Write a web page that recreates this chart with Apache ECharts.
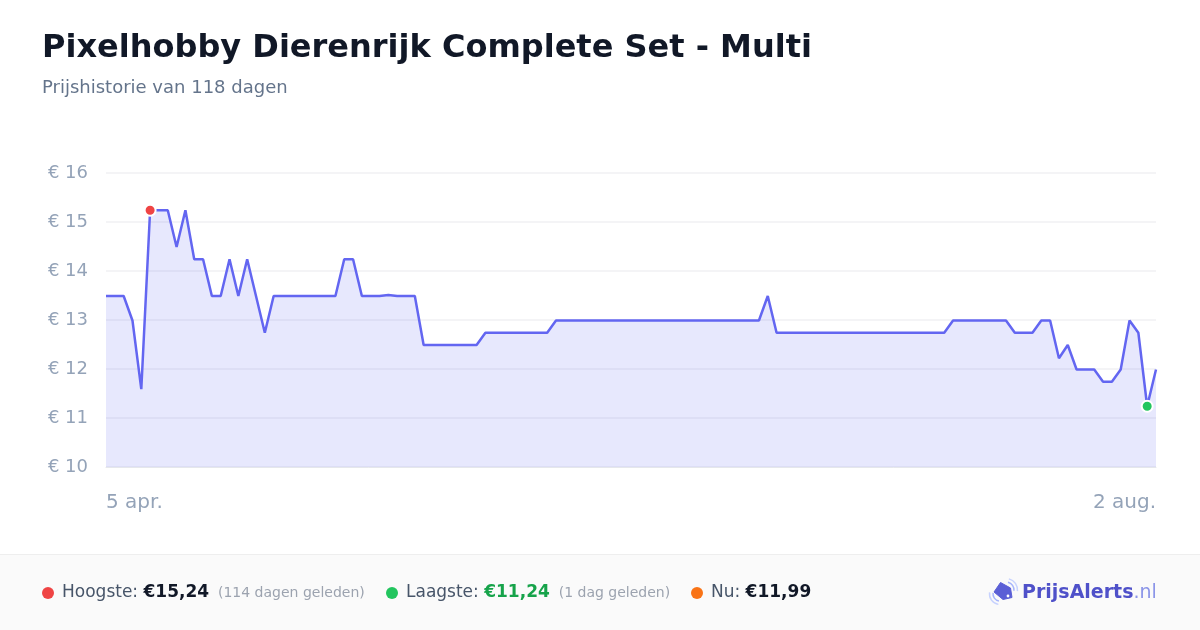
<!DOCTYPE html>
<html>
<head>
<meta charset="utf-8">
<script src="https://cdn.jsdelivr.net/npm/echarts@6/dist/echarts.min.js"></script>
<style>
html,body{margin:0;padding:0;background:#fff;}
#c{width:1200px;height:630px;}
</style>
</head>
<body>
<div id="c"></div>
<script>
var titleText = 'Pixelhobby Dierenrijk Complete Set - Multi';
var subtitleText = 'Prijshistorie van 118 dagen';

// Daily prices, 5 apr. .. 2 aug. (120 days)
var prices = [
  13.49, 13.49, 13.49, 12.99, 11.59, 15.24, 15.24, 15.24, 14.49, 15.24,
  14.24, 14.24, 13.49, 13.49, 14.24, 13.49, 14.24, 13.49, 12.74, 13.49,
  13.49, 13.49, 13.49, 13.49, 13.49, 13.49, 13.49, 14.24, 14.24, 13.49,
  13.49, 13.49, 13.51, 13.49, 13.49, 13.49, 12.49, 12.49, 12.49, 12.49,
  12.49, 12.49, 12.49, 12.74, 12.74, 12.74, 12.74, 12.74, 12.74, 12.74,
  12.74, 12.99, 12.99, 12.99, 12.99, 12.99, 12.99, 12.99, 12.99, 12.99,
  12.99, 12.99, 12.99, 12.99, 12.99, 12.99, 12.99, 12.99, 12.99, 12.99,
  12.99, 12.99, 12.99, 12.99, 12.99, 13.49, 12.74, 12.74, 12.74, 12.74,
  12.74, 12.74, 12.74, 12.74, 12.74, 12.74, 12.74, 12.74, 12.74, 12.74,
  12.74, 12.74, 12.74, 12.74, 12.74, 12.74, 12.99, 12.99, 12.99, 12.99,
  12.99, 12.99, 12.99, 12.74, 12.74, 12.74, 12.99, 12.99, 12.22, 12.49,
  11.99, 11.99, 11.99, 11.74, 11.74, 11.99, 12.99, 12.74, 11.24, 11.99
];

var monthNames = ['apr.', 'mei', 'jun.', 'jul.', 'aug.'];
var monthStart = [5, 1, 1, 1, 1];
var monthEnd = [30, 31, 30, 31, 2];

var dates = [];
for (var m = 0; m < monthNames.length; m++) {
  for (var d = monthStart[m]; d <= monthEnd[m]; d++) dates.push(d + ' ' + monthNames[m]);
}
var shownTicks = ['5 apr.', '2 aug.'];

var yMin = 10, yMax = 16, yStep = 1;

var stats = {
  high: '€15,24', highAgo: '(114 dagen geleden)',
  low: '€11,24', lowAgo: '(1 dag geleden)',
  now: '€11,99'
};

var FONT = 'DejaVu Sans';
var chart = echarts.init(document.getElementById('c'), null, {renderer: 'canvas'});

chart.setOption({
  backgroundColor: '#ffffff',
  animation: false,
  textStyle: {fontFamily: FONT},
  grid: {left: 106, right: 44, top: 173, bottom: 163, containLabel: false},
  xAxis: {
    type: 'category',
    data: dates,
    boundaryGap: false,
    axisTick: {show: false},
    axisLine: {show: true, lineStyle: {color: '#e5e7eb', width: 1}},
    splitLine: {show: false},
    axisLabel: {
      color: '#94a3b8',
      fontSize: 20,
      fontFamily: FONT,
      margin: 26,
      interval: function (i, v) { return shownTicks.indexOf(v) >= 0; },
      alignMinLabel: 'left',
      alignMaxLabel: 'right'
    }
  },
  yAxis: {
    type: 'value',
    min: yMin, max: yMax, interval: yStep,
    axisLine: {show: false},
    axisTick: {show: false},
    splitLine: {lineStyle: {color: '#f1f1f3', width: 1.5}},
    axisLabel: {
      color: '#94a3b8',
      fontSize: 18,
      fontFamily: FONT,
      margin: 18,
      padding: [3, 0, 0, 0],
      formatter: function (v) { return '€ ' + v; }
    }
  },
  series: [{
    type: 'line',
    data: prices,
    symbol: 'none',
    lineStyle: {color: '#6366f1', width: 2.5},
    areaStyle: {color: 'rgba(99,102,241,0.22)'},
    markPoint: {
      symbol: 'circle',
      symbolSize: 11,
      label: {show: false},
      data: [
        {type: 'max', itemStyle: {color: '#ef4444', borderColor: '#ffffff', borderWidth: 2}},
        {type: 'min', itemStyle: {color: '#22c55e', borderColor: '#ffffff', borderWidth: 2}}
      ]
    }
  }],
  graphic: [
    {type: 'text', left: 42, top: 33, style: {text: titleText, font: 'bold 32px "DejaVu Sans"', fill: '#111827'}},
    {type: 'text', left: 42, top: 79, style: {text: subtitleText, font: '18px "DejaVu Sans"', fill: '#64748b'}},
    {type: 'rect', shape: {x: 0, y: 555, width: 1200, height: 75}, style: {fill: '#fafafa'}},
    {type: 'line', shape: {x1: 0, y1: 554.5, x2: 1200, y2: 554.5}, style: {stroke: '#eeeeee', lineWidth: 1}},
    {type: 'circle', shape: {cx: 48, cy: 593, r: 6}, style: {fill: '#ef4444'}},
    {type: 'text', x: 62, y: 593, style: {
      text: '{a|Hoogste: }{b|' + stats.high + '}{c|  ' + stats.highAgo + '}',
      verticalAlign: 'middle',
      rich: {
        a: {font: '17px "DejaVu Sans"', fill: '#475569'},
        b: {font: 'bold 17px "DejaVu Sans"', fill: '#111827'},
        c: {font: '14px "DejaVu Sans"', fill: '#9ca3af'}
      }
    }},
    {type: 'circle', shape: {cx: 392, cy: 593, r: 6}, style: {fill: '#22c55e'}},
    {type: 'text', x: 406, y: 593, style: {
      text: '{a|Laagste: }{b|' + stats.low + '}{c|  ' + stats.lowAgo + '}',
      verticalAlign: 'middle',
      rich: {
        a: {font: '17px "DejaVu Sans"', fill: '#475569'},
        b: {font: 'bold 17px "DejaVu Sans"', fill: '#16a34a'},
        c: {font: '14px "DejaVu Sans"', fill: '#9ca3af'}
      }
    }},
    {type: 'circle', shape: {cx: 697, cy: 593, r: 6}, style: {fill: '#f97316'}},
    {type: 'text', x: 711, y: 593, style: {
      text: '{a|Nu: }{b|' + stats.now + '}',
      verticalAlign: 'middle',
      rich: {
        a: {font: '17px "DejaVu Sans"', fill: '#475569'},
        b: {font: 'bold 17px "DejaVu Sans"', fill: '#111827'}
      }
    }},
    // logo icon
    {type: 'polygon', shape: {points: [[994, 592], [1000.5, 582.5], [1010.5, 588], [1012, 597.5], [1003, 599.5]], smooth: 0}, style: {fill: '#5b5fd6', stroke: '#5b5fd6', lineWidth: 1, lineJoin: 'round'}},
    {type: 'circle', shape: {cx: 1008, cy: 596, r: 1.4}, style: {fill: '#ffffff'}},
    {type: 'arc', shape: {cx: 1006, cy: 590, r: 8, startAngle: -Math.PI * 0.42, endAngle: 0.1}, style: {stroke: '#a5b4fc', lineWidth: 1.5, fill: null}},
    {type: 'arc', shape: {cx: 1006, cy: 590, r: 11.5, startAngle: -Math.PI * 0.42, endAngle: 0.1}, style: {stroke: '#c7d2fe', lineWidth: 1.5, fill: null}},
    {type: 'arc', shape: {cx: 1000, cy: 594, r: 7, startAngle: Math.PI * 0.55, endAngle: Math.PI * 1.05}, style: {stroke: '#a5b4fc', lineWidth: 1.5, fill: null}},
    {type: 'arc', shape: {cx: 1000, cy: 594, r: 10.5, startAngle: Math.PI * 0.55, endAngle: Math.PI * 1.05}, style: {stroke: '#c7d2fe', lineWidth: 1.5, fill: null}},
    {type: 'text', x: 1022, y: 593, style: {
      text: '{a|PrijsAlerts}{b|.nl}',
      verticalAlign: 'middle',
      rich: {
        a: {font: 'bold 19px "DejaVu Sans"', fill: '#4f51c9'},
        b: {font: '19px "DejaVu Sans"', fill: '#8b95e8'}
      }
    }}
  ]
});
</script>
</body>
</html>
